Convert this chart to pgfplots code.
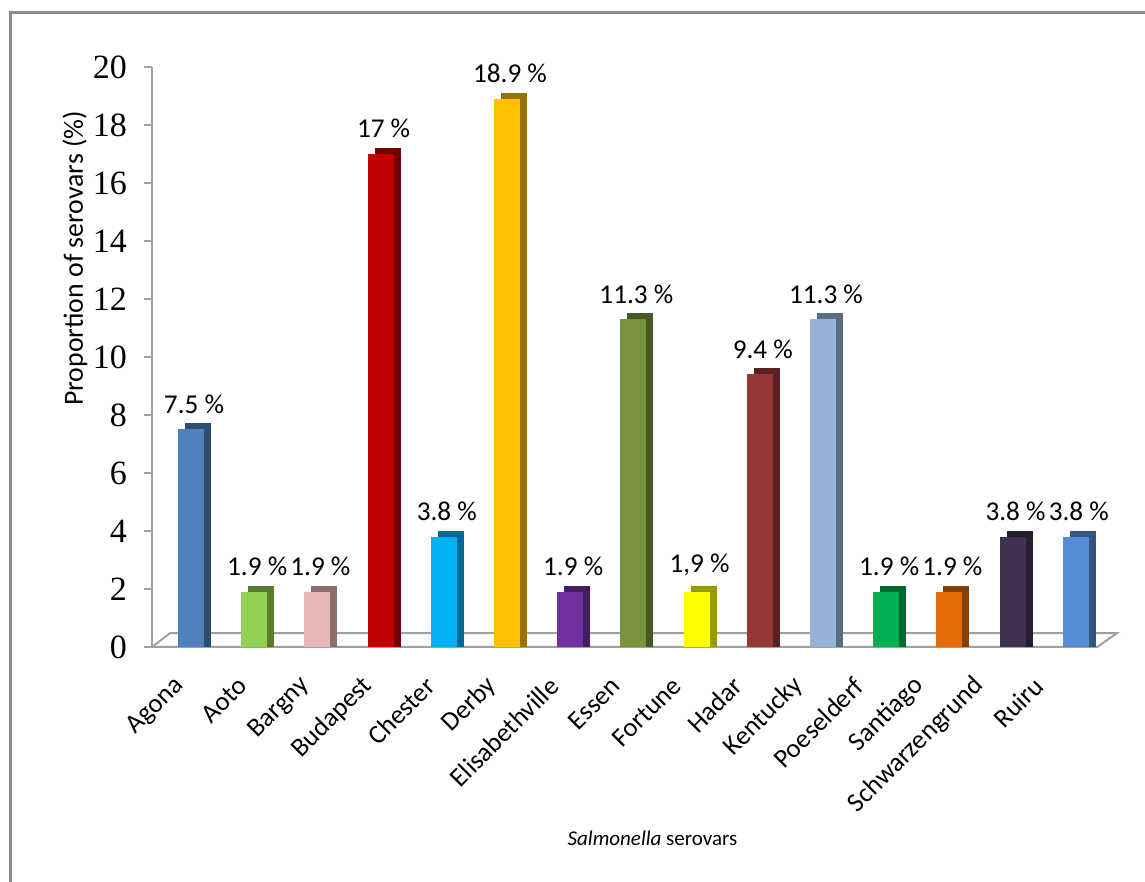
\documentclass[border=0pt]{standalone}
\usepackage{pgfplots}
\pgfplotsset{compat=1.18}
\usepackage{fontspec}
\setmainfont{Carlito}
\newfontfamily\timesf{Liberation Serif}
\definecolor{cAgona}{HTML}{4F81BD}
\definecolor{cAoto}{HTML}{92D050}
\definecolor{cBargny}{HTML}{E6B9B8}
\definecolor{cBudapest}{HTML}{C00000}
\definecolor{cChester}{HTML}{00B0F0}
\definecolor{cDerby}{HTML}{FFC000}
\definecolor{cElis}{HTML}{7030A0}
\definecolor{cEssen}{HTML}{77933C}
\definecolor{cFortune}{HTML}{FFFF00}
\definecolor{cHadar}{HTML}{953735}
\definecolor{cKentucky}{HTML}{95B3D7}
\definecolor{cPoes}{HTML}{00B050}
\definecolor{cSantiago}{HTML}{E36C09}
\definecolor{cSchw}{HTML}{403151}
\definecolor{cRuiru}{HTML}{558ED5}
\definecolor{axgray}{HTML}{A0A0A0}
\definecolor{framegray}{HTML}{8C8C8C}
\newcommand\threedbar[4]{%
  \addplot[ybar, bar width=13pt, bar shift=3.5pt, fill=#3!60!black, draw=none,
    y filter/.expression={y+0.21}] coordinates {(#1,#2)};
  \addplot[ybar, bar width=13pt, bar shift=0pt, fill=#3, draw=none,
    nodes near coords={#4},
    every node near coord/.append style={font=\fontsize{13.6}{15}\selectfont, text=black, xshift=1.5pt, yshift=4.5pt}]
    coordinates {(#1,#2)};
}
\begin{document}
\begin{tikzpicture}
\path[use as bounding box] (0,0) rectangle (572.5pt,441pt);
\draw[framegray, line width=1.5pt] (5pt,0) -- (5pt,434.5pt) -- (572.5pt,434.5pt);
\begin{axis}[
  at={(76pt,117.5pt)}, anchor=south west,
  x=31.6pt, y=14.5pt,
  xmin=-0.617, xmax=14.7, ymin=0, ymax=20,
  axis lines*=left,
  x axis line style={draw=none},
  xtick={0,0.998,1.992,2.981,3.967,4.948,5.926,6.899,7.868,8.833,9.794,10.751,11.703,12.652,13.596},
  xticklabels={Agona,Aoto,Bargny,Budapest,Chester,Derby,Elisabethville,Essen,Fortune,Hadar,Kentucky,Poeselderf,Santiago,Schwarzengrund,Ruiru},
  x tick style={draw=none},
  ytick={0,2,...,20},
  y axis line style={draw=axgray, line width=1.3pt},
  y tick style={draw=axgray, line width=1pt},
  tick align=outside, major tick length=4pt,
  /pgf/number format/assume math mode=true,
  yticklabel style={font=\timesf\fontsize{17}{17}\selectfont, xshift=-5pt},
  xticklabel style={rotate=45, anchor=east, font=\fontsize{13.3}{15}\selectfont, yshift=-5.5pt, xshift=-10pt},
  clip=false,
  xlabel={\textit{Salmonella} serovars},
  xlabel style={at={(axis description cs:0.517,-0.329)}, anchor=center, font=\fontsize{10.5}{12}\selectfont},
  ylabel={Proportion of serovars (\%)},
  ylabel style={at={(axis description cs:-0.0795,0.67)}, anchor=center, font=\fontsize{13.9}{15}\selectfont},
]
\addplot[axgray, line width=1pt] coordinates {(-0.617,0) (-0.33,0.48) (14.65,0.48) (14.34,0) (-0.617,0)};
\threedbar{0}{7.5}{cAgona}{7.5 \%}
\threedbar{1}{1.9}{cAoto}{1.9 \%}
\threedbar{2}{1.9}{cBargny}{1.9 \%}
\threedbar{3}{17}{cBudapest}{17 \%}
\threedbar{4}{3.8}{cChester}{3.8 \%}
\threedbar{5}{18.9}{cDerby}{18.9 \%}
\threedbar{6}{1.9}{cElis}{1.9 \%}
\threedbar{7}{11.3}{cEssen}{11.3 \%}
\threedbar{8}{1.9}{cFortune}{1,9 \%}
\threedbar{9}{9.4}{cHadar}{9.4 \%}
\threedbar{10}{11.3}{cKentucky}{11.3 \%}
\threedbar{11}{1.9}{cPoes}{1.9 \%}
\threedbar{12}{1.9}{cSantiago}{1.9 \%}
\threedbar{13}{3.8}{cSchw}{3.8 \%}
\threedbar{14}{3.8}{cRuiru}{3.8 \%}
\end{axis}
\end{tikzpicture}
\end{document}
